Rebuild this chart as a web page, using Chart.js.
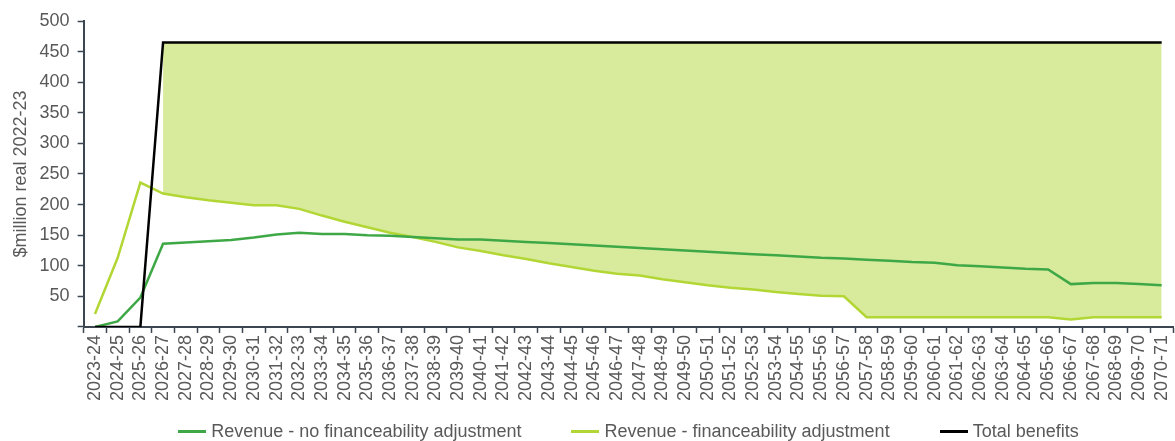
<!DOCTYPE html>
<html>
<head>
<meta charset="utf-8">
<script src="https://cdn.jsdelivr.net/npm/chart.js@4"></script>
<style>
  body { margin: 0; background: #fff; }
  #wrap { position: relative; width: 1175px; height: 441px; }
  #legend {
    position: absolute; left: 84px; width: 1089px; top: 420px; height: 22px;
    display: flex; justify-content: center; align-items: center;
    font: 18px "Liberation Sans", Arial, sans-serif; color: #595959;
  }
  .item { display: flex; align-items: center; margin: 0 25px; white-space: nowrap; }
  .swatch { width: 28px; height: 3px; margin-right: 5px; }
</style>
</head>
<body>
<div id="wrap">
  <canvas id="myChart" width="1175" height="441"></canvas>
  <div id="legend"></div>
</div>
<script>
const labels = [
  '2023-24', '2024-25', '2025-26', '2026-27', '2027-28', '2028-29', '2029-30', '2030-31',
  '2031-32', '2032-33', '2033-34', '2034-35', '2035-36', '2036-37', '2037-38', '2038-39',
  '2039-40', '2040-41', '2041-42', '2042-43', '2043-44', '2044-45', '2045-46', '2046-47',
  '2047-48', '2048-49', '2049-50', '2050-51', '2051-52', '2052-53', '2053-54', '2054-55',
  '2055-56', '2056-57', '2057-58', '2058-59', '2059-60', '2060-61', '2061-62', '2062-63',
  '2063-64', '2064-65', '2065-66', '2066-67', '2067-68', '2068-69', '2069-70', '2070-71',
];

// revenue, no financeability adjustment
const revenueNoAdj = [
  0, 9, 48, 136, 138, 140, 142, 146,
  151, 154, 152, 152, 150, 149, 147, 145,
  143, 143, 141, 139, 137, 135, 133, 131,
  129, 127, 125, 123, 121, 119, 117, 115,
  113, 112, 110, 108, 106, 105, 101, 99,
  97, 95, 94, 70, 72, 72, 70, 68,
];

// revenue, financeability adjustment
const revenueAdj = [
  21, 113, 236, 218, 212, 207, 203, 199,
  199, 193, 182, 172, 163, 154, 147, 139,
  130, 124, 117, 111, 104, 98, 92, 87,
  84, 78, 73, 68, 64, 61, 57, 54,
  51, 50, 16, 16, 16, 16, 16, 16,
  16, 16, 16, 12, 16, 16, 16, 16,
];

const totalBenefits = [
  0, 0, 0, 465, 465, 465, 465, 465,
  465, 465, 465, 465, 465, 465, 465, 465,
  465, 465, 465, 465, 465, 465, 465, 465,
  465, 465, 465, 465, 465, 465, 465, 465,
  465, 465, 465, 465, 465, 465, 465, 465,
  465, 465, 465, 465, 465, 465, 465, 465,
];

const seriesNames = ['Revenue - no financeability adjustment', 'Revenue - financeability adjustment', 'Total benefits'];
const seriesColors = ['#3ea846', '#b2d735', '#000000'];
const gapFill = '#d8ea9c';

const font = "'Liberation Sans', Arial, sans-serif";
const grey = '#595959';
const axisColor = '#3b4650';

const data = {
  labels: labels,
  datasets: [{
    label: seriesNames[0],
    data: revenueNoAdj,
    borderColor: seriesColors[0],
    borderWidth: 2.5,
    order: 1,
  }, {
    label: seriesNames[1],
    data: revenueAdj,
    borderColor: seriesColors[1],
    borderWidth: 2.5,
    order: 2,
  }, {
    label: seriesNames[2],
    data: totalBenefits,
    borderColor: seriesColors[2],
    borderWidth: 2.5,
    order: 0,
  }, {
    // shaded gap between benefits and adjusted revenue, once benefits start
    label: 'gap',
    data: totalBenefits.map(v => v > 0 ? v : null),
    borderWidth: 0,
    borderColor: 'rgba(0,0,0,0)',
    backgroundColor: gapFill,
    fill: { target: 1, above: gapFill, below: gapFill },
    spanGaps: false,
    order: 5,
  }]
};

const config = {
  type: 'line',
  data: data,
  options: {
    responsive: false,
    animation: false,
    layout: { padding: { top: 21, right: 0, bottom: 38, left: 10 } },
    elements: {
      point: { radius: 0 },
      line: { tension: 0 }
    },
    plugins: {
      legend: { display: false },
      tooltip: { enabled: false }
    },
    scales: {
      x: {
        offset: true,
        afterFit: s => { s.paddingRight = 2; },
        grid: {
          offset: true,
          drawOnChartArea: false,
          color: axisColor,
          tickLength: 6,
          tickWidth: 1.5,
        },
        border: { color: axisColor, width: 2 },
        ticks: {
          color: grey,
          font: { family: font, size: 18 },
          maxRotation: 90,
          minRotation: 90,
          autoSkip: false,
          padding: 2,
        }
      },
      y: {
        min: 0,
        max: 500,
        grid: {
          drawOnChartArea: false,
          color: axisColor,
          tickLength: 6,
          tickWidth: 1.5,
        },
        border: { color: axisColor, width: 2 },
        ticks: {
          stepSize: 50,
          color: grey,
          font: { family: font, size: 18 },
          padding: 8,
          callback: v => v === 0 ? '' : v,
        },
        title: {
          display: true,
          text: '$million real 2022-23',
          color: grey,
          font: { family: font, size: 18 },
          padding: 0,
        }
      }
    }
  }
};

const myChart = new Chart(document.getElementById('myChart'), config);

const legend = document.getElementById('legend');
seriesNames.forEach((name, i) => {
  const item = document.createElement('div');
  item.className = 'item';
  const sw = document.createElement('span');
  sw.className = 'swatch';
  sw.style.background = seriesColors[i];
  const txt = document.createElement('span');
  txt.textContent = name;
  item.appendChild(sw);
  item.appendChild(txt);
  legend.appendChild(item);
});
</script>
</body>
</html>
